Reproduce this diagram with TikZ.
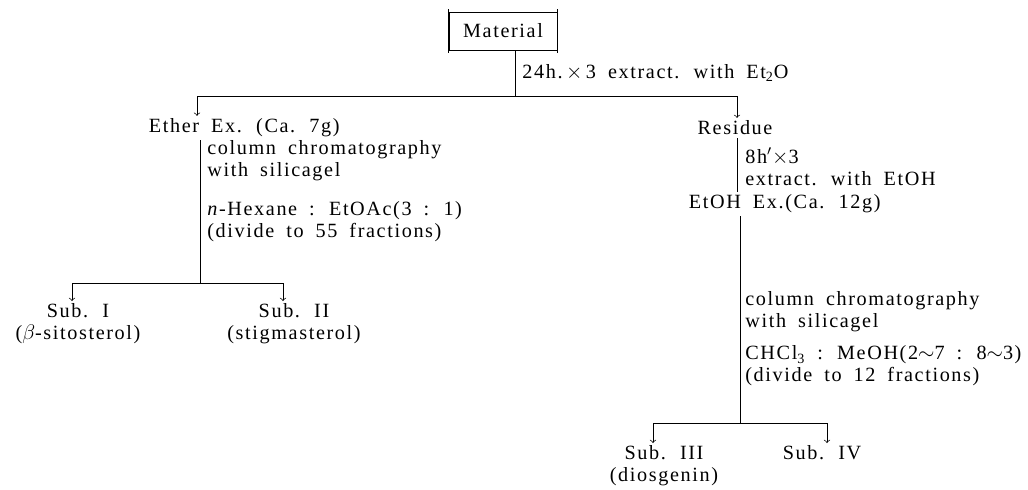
\documentclass[tikz,border=0pt]{standalone}
\usepackage{amsmath}
\usepackage{fontspec}
\setmainfont{Liberation Serif}[LetterSpace=8, WordSpace=1.8]
\usetikzlibrary{positioning}
\tikzset{>=to}
\newcommand{\wide}{\fontsize{11.5}{12.5}\selectfont}
\tikzset{
  stage/.style = {inner sep=1.5pt, font=\wide},
  note/.style  = {anchor=west, align=left, inner sep=0pt, font=\wide},
  product/.style = {anchor=north, align=center, inner sep=1pt, font=\wide}
}

\begin{document}
\begin{tikzpicture}[x=0.02cm,y=-0.02cm]
  \useasboundingbox (0,0) rectangle (1028,490);
  % starting material
  \node[draw,font=\wide,minimum width=2.16cm,minimum height=0.76cm] (material) at (503,31) {Material};
  \draw ([yshift=1.5pt]material.north west) -- ([yshift=-1.5pt]material.south west);
  \draw ([yshift=1.5pt]material.north east) -- ([yshift=-1.5pt]material.south east);
  \coordinate (split) at (515,96);
  \coordinate (ethtop) at (197,96);
  \coordinate (restop) at (737,96);
  \node[note] (ext) at (522,73) {24h.$\,\times\,$3 extract. with Et\textsubscript{2}O};
  \draw (material.south -| split) -- (split);
  \draw (ethtop) -- (restop);
  % ether branch
  \node[stage,anchor=west] (ether) at (146,128) {Ether Ex. (Ca. 7g)};
  \draw[->] (ethtop) -- (ethtop |- ether.north);
  \coordinate (ethbot) at (200,283);
  \coordinate (sub1top) at (72,283);
  \coordinate (sub2top) at (283,283);
  \draw (ethbot |- ether.south) -- (ethbot);
  \node[note] (col1) at (207,161) {column chromatography\\with silicagel};
  \node[note] (elu1) at (207,222) {\textit{n}-Hexane : EtOAc(3 : 1)\\(divide to 55 fractions)};
  \draw (sub1top) -- (sub2top);
  \node[product] (sub1) at (78,301) {Sub. I\\($\beta$-sitosterol)};
  \node[product] (sub2) at (294,301) {Sub. II\\(stigmasterol)};
  \draw[->] (sub1top) -- (sub1top |- sub1.north);
  \draw[->] (sub2top) -- (sub2top |- sub2.north);
  % residue branch
  \node[stage] (residue) at (735,128) {Residue};
  \draw[->] (restop) -- (restop |- residue.north);
  \node[stage,anchor=west] (etoh) at (686,204) {EtOH Ex.(Ca. 12g)};
  \draw (restop |- residue.south) -- (restop |- etoh.north);
  \node[note] (ext2) at (745,167) {8h$'\times$3\\extract. with EtOH};
  \coordinate (etohbot) at (740,423);
  \coordinate (sub3top) at (653,423);
  \coordinate (sub4top) at (827,423);
  \draw (etohbot |- etoh.south) -- (etohbot);
  \node[note] (col2) at (745,312) {column chromatography\\with silicagel};
  \node[note] (elu2) at (745,366) {CHCl\textsubscript{3} : MeOH(2$\sim$7 : 8$\sim$3)\\(divide to 12 fractions)};
  \draw (sub3top) -- (sub4top);
  \node[product] (sub3) at (664,443) {Sub. III\\(diosgenin)};
  \node[product] (sub4) at (822,443) {Sub. IV};
  \draw[->] (sub3top) -- (sub3top |- sub3.north);
  \draw[->] (sub4top) -- (sub4top |- sub4.north);
\end{tikzpicture}
\end{document}
